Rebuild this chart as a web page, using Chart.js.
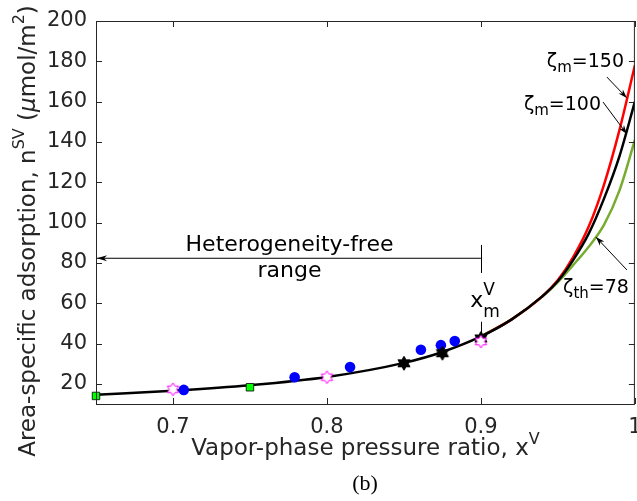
<!DOCTYPE html>
<html>
<head>
<meta charset="utf-8">
<script src="https://cdn.jsdelivr.net/npm/chart.js@4.4.1/dist/chart.umd.min.js"></script>
<style>
  html, body { margin: 0; padding: 0; background: #fff; overflow: hidden; }
</style>
</head>
<body>
<!-- canvas is a few px wider than the window so the right axis sits on the edge, as in the figure -->
<canvas id="adsChart" width="641" height="501"></canvas>
<script>
// axis ticks
const xTicks = [0.7, 0.8, 0.9, 1.0];
const xTickLabels = ['0.7', '0.8', '0.9', '1'];
const yTicks = [20, 40, 60, 80, 100, 120, 140, 160, 180, 200];
const yTickLabels = ['20', '40', '60', '80', '100', '120', '140', '160', '180', '200'];

// model curves (zeta_m = 100 is the full black curve)
const curveX = [0.65, 0.70, 0.75, 0.80, 0.85, 0.875, 0.90, 0.92, 0.94, 0.95, 0.96, 0.97, 0.98, 0.99, 1.0];
const zetaM100 = [14.6, 16.6, 19.3, 23.4, 30.4, 35.8, 43.5, 52, 63.5, 71, 81.5, 94.5, 112, 133, 160];
const tailX = [0.90, 0.92, 0.94, 0.95, 0.96, 0.97, 0.98, 0.99, 1.0];
const zetaM150 = [43.5, 52, 63.5, 71.5, 83, 98, 119, 146, 178];
const zetaTh78 = [43.5, 52, 63.3, 70.5, 79, 88, 99, 116, 141];

// measured points
const blueX = [0.707, 0.779, 0.815, 0.861, 0.874, 0.883];
const blueY = [17.0, 23.3, 28.3, 36.9, 39.2, 41.2];
const blackStarX = [0.85, 0.875, 0.90];
const blackStarY = [30.2, 35.2, 42.5];
const pinkStarX = [0.70, 0.80, 0.90];
const pinkStarY = [17.3, 23.3, 41.0];
const greenSqX = [0.65, 0.75];
const greenSqY = [14.0, 18.3];

const AXIS = '#262626';
const FONT = 'DejaVu Sans';

function pts(xs, ys) { return xs.map((x, i) => ({ x: x, y: ys[i] })); }

function hexagram(size, fill, stroke, lw) {
    const c = document.createElement('canvas');
    c.width = c.height = size;
    const g = c.getContext('2d');
    const cx = size / 2, cy = size / 2;
    const R = size / 2 - lw, r = R / Math.sqrt(3);
    g.beginPath();
    for (let i = 0; i < 12; i++) {
        const a = -Math.PI / 2 + i * Math.PI / 6;
        const rr = i % 2 === 0 ? R : r;
        g.lineTo(cx + rr * Math.cos(a), cy + rr * Math.sin(a));
    }
    g.closePath();
    g.fillStyle = fill;
    g.fill();
    g.lineWidth = lw;
    g.strokeStyle = stroke;
    g.stroke();
    return c;
}

const blackStar = hexagram(16, '#000', '#000', 1);
const pinkStar = hexagram(15, '#fff', '#ff00ff', 1);

function drawRich(ctx, parts, x, y, align) {
    ctx.textAlign = 'left';
    ctx.textBaseline = 'alphabetic';
    let w = 0;
    parts.forEach(p => { ctx.font = p.font; w += ctx.measureText(p.t).width; });
    let cx = align === 'right' ? x - w : (align === 'center' ? x - w / 2 : x);
    parts.forEach(p => {
        ctx.font = p.font;
        ctx.fillText(p.t, cx, y + (p.dy || 0));
        cx += ctx.measureText(p.t).width;
    });
}

function arrow(ctx, x0, y0, x1, y1, head) {
    ctx.beginPath();
    ctx.moveTo(x0, y0);
    ctx.lineTo(x1, y1);
    ctx.stroke();
    const a = Math.atan2(y1 - y0, x1 - x0);
    ctx.beginPath();
    ctx.moveTo(x1, y1);
    ctx.lineTo(x1 - head * Math.cos(a) + 3 * Math.sin(a), y1 - head * Math.sin(a) - 3 * Math.cos(a));
    ctx.lineTo(x1 - head * 0.7 * Math.cos(a), y1 - head * 0.7 * Math.sin(a));
    ctx.lineTo(x1 - head * Math.cos(a) - 3 * Math.sin(a), y1 - head * Math.sin(a) + 3 * Math.cos(a));
    ctx.closePath();
    ctx.fill();
}

// box with inward ticks, x tick labels, annotations and axis titles
const decorations = {
    id: 'decorations',
    afterDraw(chart) {
        const ctx = chart.ctx;
        const xs = chart.scales.x, ys = chart.scales.y;
        const a = chart.chartArea;
        const X = v => xs.getPixelForValue(v), Y = v => ys.getPixelForValue(v);
        ctx.save();

        // axes box + ticks
        ctx.strokeStyle = AXIS;
        ctx.lineWidth = 1;
        ctx.strokeRect(a.left + 0.5, a.top + 0.5, a.right - a.left - 1, a.bottom - a.top);
        ctx.beginPath();
        xTicks.forEach(v => {
            const px = Math.round(X(v)) + 0.5;
            ctx.moveTo(px, a.bottom); ctx.lineTo(px, a.bottom - 6);
            ctx.moveTo(px, a.top); ctx.lineTo(px, a.top + 6);
        });
        yTicks.forEach(v => {
            const py = Math.round(Y(v)) + 0.5;
            ctx.moveTo(a.left, py); ctx.lineTo(a.left + 6, py);
            ctx.moveTo(a.right, py); ctx.lineTo(a.right - 6, py);
        });
        ctx.stroke();

        // x tick labels
        ctx.fillStyle = AXIS;
        ctx.font = '21px ' + FONT;
        ctx.textAlign = 'center';
        ctx.textBaseline = 'alphabetic';
        xTicks.forEach((v, i) => ctx.fillText(xTickLabels[i], X(v), a.bottom + 29));

        // heterogeneity-free range
        ctx.fillStyle = '#000';
        ctx.strokeStyle = '#000';
        ctx.lineWidth = 1;
        drawRich(ctx, [{ t: 'Heterogeneity-free', font: '22px ' + FONT }], X(0.7757), Y(85.9), 'center');
        drawRich(ctx, [{ t: 'range', font: '22px ' + FONT }], X(0.7757), Y(73.0), 'center');
        arrow(ctx, X(0.9), Y(82.3), X(0.65) + 1, Y(82.3), 10);
        ctx.beginPath();
        ctx.moveTo(Math.round(X(0.9)) + 0.5, Y(88.9));
        ctx.lineTo(Math.round(X(0.9)) + 0.5, Y(75.0));
        ctx.stroke();

        // x_m^V marker
        ctx.font = '22px ' + FONT;
        ctx.textAlign = 'left';
        ctx.textBaseline = 'alphabetic';
        const xl = X(0.893), yl = Y(58.3);
        ctx.fillText('x', xl, yl);
        const xw = ctx.measureText('x').width;
        ctx.font = '17px ' + FONT;
        ctx.fillText('V', xl + xw, yl - 12);
        ctx.fillText('m', xl + xw, yl + 10);
        ctx.beginPath();
        ctx.moveTo(Math.round(X(0.9)) + 0.5, Y(50.8));
        ctx.lineTo(Math.round(X(0.9)) + 0.5, Y(44.2));
        ctx.stroke();

        // zeta labels
        const big = '19px ' + FONT, small = '15px ' + FONT;
        drawRich(ctx, [{ t: '\u03B6', font: big }, { t: 'm', font: small, dy: 5 }, { t: '=150', font: big }], X(0.9929), Y(177.2), 'right');
        arrow(ctx, X(0.9818), Y(172.2), X(0.9948), Y(161.8), 9);
        drawRich(ctx, [{ t: '\u03B6', font: big }, { t: 'm', font: small, dy: 5 }, { t: '=100', font: big }], X(0.978), Y(155.8), 'right');
        arrow(ctx, X(0.9793), Y(159.8), X(0.9948), Y(143.9), 9);
        drawRich(ctx, [{ t: '\u03B6', font: big }, { t: 'th', font: small, dy: 5 }, { t: '=78', font: big }], X(0.9961), Y(65.1), 'right');
        arrow(ctx, X(0.9948), Y(76.5), X(0.9747), Y(92.8), 9);

        // axis titles
        ctx.fillStyle = AXIS;
        drawRich(ctx, [
            { t: 'Vapor-phase pressure ratio, x', font: '23px ' + FONT },
            { t: 'V', font: '16px ' + FONT, dy: -11 }
        ], (a.left + a.right) / 2, 455, 'center');

        ctx.save();
        ctx.translate(35, 231);
        ctx.rotate(-Math.PI / 2);
        drawRich(ctx, [
            { t: 'Area-specific adsorption, n', font: '23px ' + FONT },
            { t: 'SV', font: '16px ' + FONT, dy: -11 },
            { t: ' (', font: '23px ' + FONT },
            { t: '\u03BC', font: 'italic 23px ' + FONT },
            { t: 'mol/m', font: '23px ' + FONT },
            { t: '2', font: '16px ' + FONT, dy: -11 },
            { t: ')', font: '23px ' + FONT }
        ], 0, 0, 'center');
        ctx.restore();

        ctx.fillStyle = '#000';
        drawRich(ctx, [{ t: '(b)', font: '22px "Liberation Serif"' }], 365, 490, 'center');
        ctx.restore();
    }
};

const ctx = document.getElementById('adsChart').getContext('2d');
new Chart(ctx, {
    type: 'scatter',
    data: {
        datasets: [
            { data: pts(pinkStarX, pinkStarY), pointStyle: pinkStar, order: 0, clip: false },
            { data: pts(blackStarX, blackStarY), pointStyle: blackStar, order: 1, clip: false },
            { data: pts(blueX, blueY), pointStyle: 'circle', pointRadius: 5.3, backgroundColor: '#0000ff', borderColor: '#0000ff', borderWidth: 0, order: 2, clip: false },
            { data: pts(greenSqX, greenSqY), pointStyle: 'rect', pointRadius: 5.3, backgroundColor: '#00ff00', borderColor: '#000', borderWidth: 0.8, order: 3, clip: false },
            { data: pts(curveX, zetaM100), showLine: true, pointRadius: 0, borderColor: '#000', borderWidth: 2.5, cubicInterpolationMode: 'monotone', order: 4 },
            { data: pts(tailX, zetaM150), showLine: true, pointRadius: 0, borderColor: '#ff0000', borderWidth: 2.5, cubicInterpolationMode: 'monotone', order: 5 },
            { data: pts(tailX, zetaTh78), showLine: true, pointRadius: 0, borderColor: '#77ac30', borderWidth: 2.5, cubicInterpolationMode: 'monotone', order: 6 }
        ]
    },
    options: {
        responsive: false,
        animation: false,
        devicePixelRatio: 1,
        layout: { padding: { top: 21, right: 1, left: 0, bottom: 0 } },
        plugins: { legend: { display: false }, tooltip: { enabled: false } },
        scales: {
            x: {
                type: 'linear',
                min: 0.65,
                max: 1.0,
                grid: { display: false, drawTicks: false },
                border: { display: false },
                afterBuildTicks: s => { s.ticks = xTicks.map(v => ({ value: v })); },
                afterFit: s => { s.height = 97; s.paddingLeft = 0; s.paddingRight = 0; },
                ticks: { display: false }
            },
            y: {
                min: 10,
                max: 200,
                grid: { display: false, drawTicks: false },
                border: { display: false },
                afterBuildTicks: s => { s.ticks = yTicks.map(v => ({ value: v })); },
                afterFit: s => { s.width = 96; s.paddingTop = 0; s.paddingBottom = 0; },
                ticks: {
                    padding: 9,
                    color: AXIS,
                    font: { family: FONT, size: 21 },
                    autoSkip: false,
                    callback: (v, i) => yTickLabels[i]
                }
            }
        }
    },
    plugins: [decorations]
});
</script>
</body>
</html>
